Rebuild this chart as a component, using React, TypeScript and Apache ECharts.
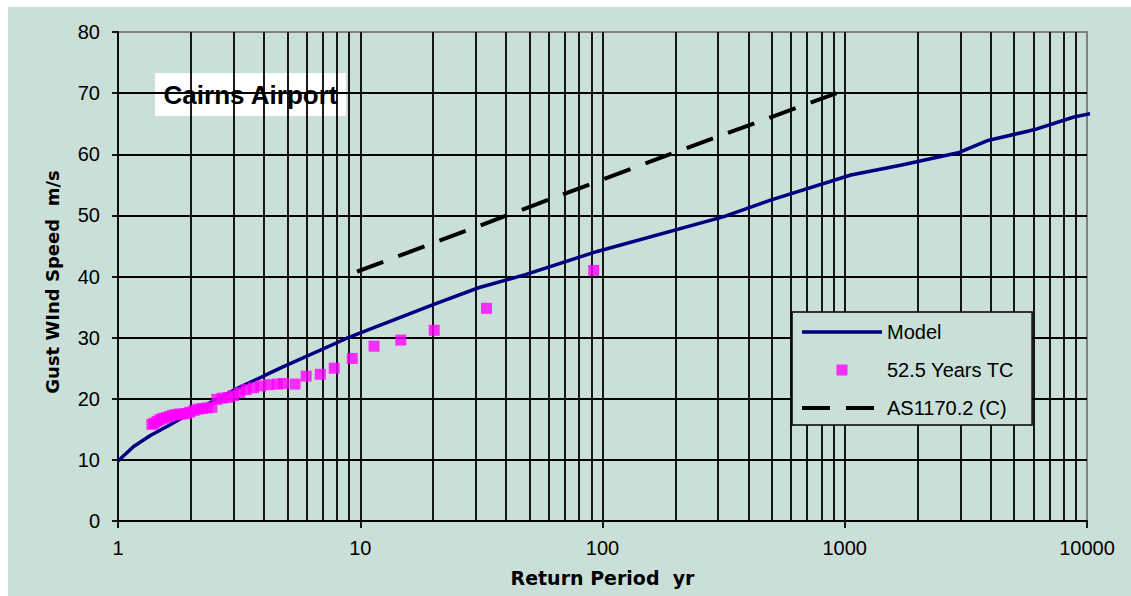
import React, { useEffect, useRef } from "react";
import * as echarts from "echarts";

// Modelled gust wind speed versus return period
const modelPeriod = [1, 1.16, 1.36, 1.6, 2, 3, 4.67, 8.81, 20, 31, 48, 95, 317, 494, 1060, 1700, 2970, 3860, 6030, 8830, 10500];
const modelSpeed = [9.8, 12.2, 14.0, 15.5, 17.7, 21.4, 25.0, 29.9, 35.4, 38.2, 40.3, 44.1, 49.8, 52.5, 56.6, 58.2, 60.3, 62.2, 64.0, 66.1, 66.7];

// Observed tropical-cyclone gusts (52.5 year record), ranked
const tcPeriod = [
  1.38, 1.41, 1.45, 1.49, 1.53, 1.58, 1.63, 1.68, 1.73, 1.79, 1.85, 1.91, 1.98, 2.06, 2.14, 2.23, 2.33, 2.44,
  2.56, 2.69, 2.84, 3.0, 3.18, 3.38, 3.62, 3.88, 4.19, 4.55, 4.82, 5.38, 5.98, 6.84, 7.81, 9.27, 11.4, 14.7,
  20.2, 33.2, 92,
];
const tcSpeed = [
  15.8, 16.0, 16.3, 16.6, 16.8, 16.9, 17.1, 17.3, 17.4, 17.5, 17.5, 17.6, 17.8, 18.1, 18.3, 18.4, 18.5, 18.6,
  19.9, 20.1, 20.2, 20.5, 21.0, 21.5, 21.8, 22.1, 22.3, 22.4, 22.5, 22.4, 23.7, 24.0, 25.0, 26.6, 28.6, 29.6,
  31.2, 34.8, 41.0,
];

// AS1170.2 region C design gust
const asPeriod = [9.7, 196, 926];
const asSpeed = [40.8, 60.2, 70.0];

// Grid line positions
const periodGridLines = [
  2, 3, 4, 5, 6, 7, 8, 9, 10, 20, 30, 40, 50, 60, 70, 80, 90, 100, 200, 300, 400, 500, 600, 700, 800, 900,
  1000, 2000, 3000, 4000, 5000, 6000, 7000, 8000, 9000,
];
const speedGridLines = [10, 20, 30, 40, 50, 60, 70];

const FONT = "'Liberation Sans', Arial, sans-serif";
const TITLE_FONT = "'DejaVu Sans', 'Liberation Sans', sans-serif";

const BG = "#c9dfd7";
const MODEL_COLOR = "#000080";
const TC_COLOR = "#ff00ff";
const AS_DASH = [28, 16];

const pairs = (xs: number[], ys: number[]) => xs.map((x, i) => [x, ys[i]]);

export default function App() {
  const ref = useRef<HTMLDivElement>(null);

  useEffect(() => {
    if (!ref.current) return;
    const chart = echarts.init(ref.current, undefined, { renderer: "svg" });
    chart.setOption({
      animation: false,
      backgroundColor: BG,
      grid: {
        left: 110,
        top: 25,
        width: 969,
        height: 489,
        show: true,
        borderColor: "#808080",
        borderWidth: 2,
        backgroundColor: "transparent",
        containLabel: false,
      },
      xAxis: {
        type: "log",
        logBase: 10,
        min: 1,
        max: 10000,
        axisLine: { show: true, lineStyle: { color: "#000", width: 1.8 } },
        axisTick: { show: true, length: 7, lineStyle: { color: "#000", width: 1.8 } },
        axisLabel: {
          fontSize: 20,
          color: "#000",
          fontFamily: FONT,
          margin: 17,
          formatter: (v: number) => String(Math.round(v)),
        },
        splitLine: { show: false },
        name: "Return Period  yr",
        nameLocation: "middle",
        nameGap: 47,
        nameTextStyle: { fontFamily: TITLE_FONT, fontWeight: "bold", fontSize: 19, color: "#000" },
      },
      yAxis: {
        type: "value",
        min: 0,
        max: 80,
        interval: 10,
        axisLine: { show: true, lineStyle: { color: "#000", width: 1.8 } },
        axisTick: { show: true, length: 6, lineStyle: { color: "#000", width: 1.8 } },
        axisLabel: { fontSize: 20, color: "#000", fontFamily: FONT, margin: 18 },
        splitLine: { show: false },
      },
      legend: {
        orient: "vertical",
        left: 784,
        top: 305,
        z: 6,
        padding: [10, 18, 7, 8],
        itemGap: 18,
        itemWidth: 80,
        itemHeight: 14,
        borderColor: "#000",
        borderWidth: 1.5,
        backgroundColor: BG,
        selectedMode: false,
        textStyle: { fontSize: 20, color: "#000", fontFamily: FONT, lineHeight: 20 },
        data: [
          {
            name: "Model",
            itemStyle: { color: "transparent", borderWidth: 0, opacity: 0 },
            lineStyle: { color: MODEL_COLOR, width: 3.5, type: "solid" },
          },
          {
            name: "52.5 Years TC",
            icon: "path://M0,0h0.05v0.05h-0.05z M34.5,0h11v11h-11z M79.95,10.95h0.05v0.05h-0.05z",
            itemStyle: { color: TC_COLOR },
          },
          {
            name: "AS1170.2 (C)",
            itemStyle: { color: "transparent", borderWidth: 0, opacity: 0 },
            lineStyle: { color: "#000", width: 4, type: AS_DASH },
          },
        ],
      },
      graphic: [
        {
          type: "group",
          left: 147,
          top: 66,
          z: 10,
          children: [
            { type: "rect", shape: { x: 0, y: 0, width: 191, height: 43 }, style: { fill: "#ffffff" } },
            {
              type: "text",
              x: 95.5,
              y: 22,
              style: {
                text: "Cairns Airport",
                fontFamily: FONT,
                fontWeight: "bold",
                fontSize: 26,
                fill: "#000",
                align: "center",
                verticalAlign: "middle",
              },
            },
          ],
        },
        {
          type: "text",
          x: 44,
          y: 275,
          rotation: Math.PI / 2,
          z: 10,
          style: {
            text: "Gust WInd Speed  m/s",
            fontFamily: TITLE_FONT,
            fontWeight: "bold",
            fontSize: 18,
            fill: "#000",
            align: "center",
            verticalAlign: "middle",
          },
        },
      ],
      series: [
        {
          type: "line",
          name: "grid",
          data: [],
          silent: true,
          markLine: {
            silent: true,
            symbol: "none",
            z: 1,
            animation: false,
            label: { show: false },
            emphasis: { disabled: true },
            lineStyle: { color: "#000", width: 1.8, type: "solid" },
            data: [
              ...periodGridLines.map((v) => ({ xAxis: v })),
              ...speedGridLines.map((v) => ({ yAxis: v })),
            ],
          },
        },
        {
          type: "line",
          name: "Model",
          data: pairs(modelPeriod, modelSpeed),
          symbol: "none",
          clip: false,
          z: 3,
          lineStyle: { color: MODEL_COLOR, width: 3.5 },
          itemStyle: { color: MODEL_COLOR },
        },
        {
          type: "scatter",
          name: "52.5 Years TC",
          data: pairs(tcPeriod, tcSpeed),
          symbol: "rect",
          symbolSize: 11,
          z: 4,
          itemStyle: { color: TC_COLOR },
        },
        {
          type: "line",
          name: "AS1170.2 (C)",
          data: pairs(asPeriod, asSpeed),
          symbol: "none",
          z: 4,
          lineStyle: { color: "#000", width: 4, type: AS_DASH, cap: "butt" },
          itemStyle: { color: "#000" },
        },
      ],
    });
    return () => chart.dispose();
  }, []);

  return (
    <div
      ref={ref}
      style={{ position: "fixed", left: 8, top: 7, width: 1123, height: 589 }}
    />
  );
}
